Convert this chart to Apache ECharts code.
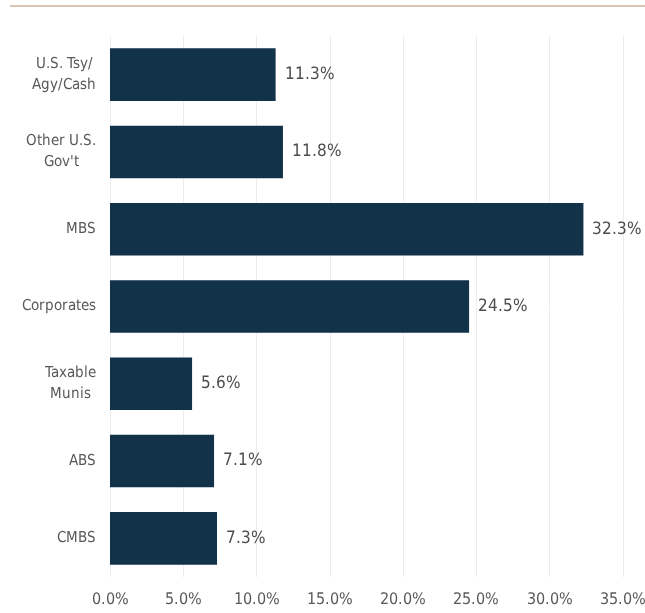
<!DOCTYPE html>
<html>
<head>
<meta charset="utf-8">
<script src="https://cdn.jsdelivr.net/npm/echarts@6/dist/echarts.min.js"></script>
<style>
    html, body { margin: 0; padding: 0; background: #fff; }
    @font-face {
        font-family: 'CondFace';
        src: local('Liberation Sans Narrow'), local('LiberationSansNarrow-Regular'),
             local('DejaVu Sans Condensed'), local('DejaVuSansCondensed');
    }
</style>
</head>
<body>
<div id="main" style="width:645px;height:613px;"></div>
<script type="text/javascript">
    // categories top to bottom
    var categories = ['U.S. Tsy/\nAgy/Cash', 'Other U.S.\nGov\'t', 'MBS', 'Corporates', 'Taxable\nMunis', 'ABS', 'CMBS'];
    var weights = [11.3, 11.8, 32.3, 24.5, 5.6, 7.1, 7.3];
    var xTicks = [0, 5, 10, 15, 20, 25, 30, 35];

    var font = "CondFace, sans-serif";
    var catSize = 15;

    function draw() {
        // two-line labels: lines centred on each other, block right-aligned
        var ctx = document.createElement('canvas').getContext('2d');
        ctx.font = catSize + 'px ' + font;
        var rich = {};
        categories.forEach(function (c, i) {
            var lines = c.split('\n');
            var w = 0;
            lines.forEach(function (l) { w = Math.max(w, ctx.measureText(l).width); });
            rich['c' + i] = { width: Math.ceil(w), align: 'center', fontFamily: font, fontSize: catSize, color: '#595959', lineHeight: 21 };
        });

        var myChart = echarts.init(document.getElementById('main'));
        var option = {
            animation: false,
            graphic: [{
                type: 'line',
                shape: { x1: 10, y1: 6, x2: 645, y2: 6 },
                style: { stroke: '#d9c5b2', lineWidth: 2 }
            }],
            grid: {
                left: 110,
                right: 22,
                top: 36,
                bottom: 36,
                outerBoundsMode: 'none'
            },
            xAxis: {
                type: 'value',
                min: xTicks[0],
                max: xTicks[xTicks.length - 1],
                interval: 5,
                axisLine: { show: false },
                axisTick: { show: false },
                splitLine: { lineStyle: { color: '#ececec', width: 1 } },
                axisLabel: {
                    color: '#595959',
                    fontFamily: font,
                    fontSize: 16,
                    margin: 15,
                    formatter: function (v) { return v.toFixed(1) + '%'; }
                }
            },
            yAxis: {
                type: 'category',
                data: categories,
                inverse: true,
                axisLine: { show: false },
                axisTick: { show: false },
                axisLabel: {
                    color: '#595959',
                    fontFamily: font,
                    fontSize: catSize,
                    lineHeight: 21,
                    margin: 14,
                    align: 'right',
                    rich: rich,
                    formatter: function (v, idx) {
                        var i = categories.indexOf(v);
                        return v.split('\n').map(function (l) {
                            return '{c' + i + '|' + l + '}';
                        }).join('\n');
                    }
                }
            },
            series: [{
                type: 'bar',
                data: weights,
                barCategoryGap: '32%',
                itemStyle: { color: '#12324a' },
                label: {
                    show: true,
                    position: 'right',
                    distance: 9,
                    color: '#4d4d4d',
                    fontFamily: font,
                    fontSize: 17,
                    formatter: function (p) { return p.value.toFixed(1) + '%'; }
                }
            }]
        };
        myChart.setOption(option);
    }

    if (document.fonts && document.fonts.load) {
        document.fonts.load('16px CondFace').then(draw, draw);
    } else {
        draw();
    }
</script>
</body>
</html>
